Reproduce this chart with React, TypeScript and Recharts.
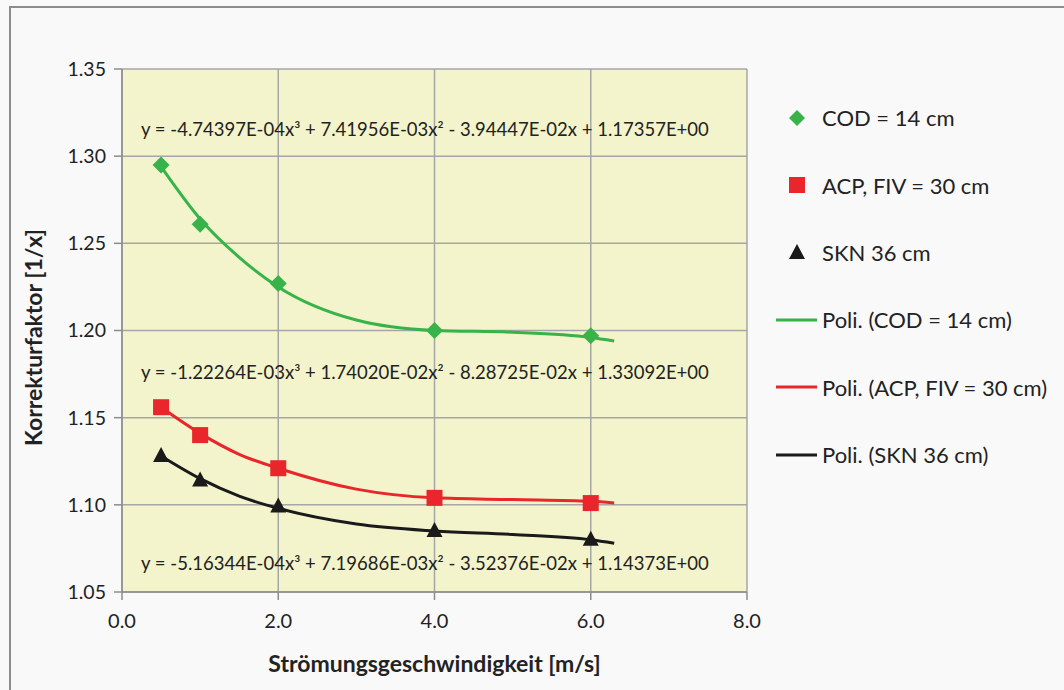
import {
  ComposedChart,
  Line,
  Scatter,
  XAxis,
  YAxis,
  CartesianGrid,
} from 'recharts';

// measured points
const speeds = [0.5, 1, 2, 4, 6];
const codValues = [1.295, 1.261, 1.227, 1.2, 1.197];
const acpValues = [1.156, 1.14, 1.121, 1.104, 1.101];
const sknValues = [1.128, 1.114, 1.099, 1.085, 1.08];

// trend curves
const trendX = [0.5, 1, 1.5, 2, 3, 4, 5, 6, 6.3];
const codTrend = [1.294, 1.264, 1.242, 1.225, 1.206, 1.2, 1.199, 1.196, 1.194];
const acpTrend = [1.156, 1.141, 1.129, 1.121, 1.109, 1.104, 1.103, 1.102, 1.101];
const sknTrend = [1.128, 1.115, 1.105, 1.098, 1.089, 1.085, 1.083, 1.08, 1.078];

const xTicks = [0, 2, 4, 6, 8];
const yTicks = [1.05, 1.1, 1.15, 1.2, 1.25, 1.3, 1.35];

const equations = [
  'y = -4.74397E-04x³ + 7.41956E-03x² - 3.94447E-02x + 1.17357E+00',
  'y = -1.22264E-03x³ + 1.74020E-02x² - 8.28725E-02x + 1.33092E+00',
  'y = -5.16344E-04x³ + 7.19686E-03x² - 3.52376E-02x + 1.14373E+00',
];

const GREEN = '#37b34a';
const RED = '#e8262b';
const BLACK = '#1a1a1a';
const FONT = 'Lato, "Open Sans", sans-serif';

const toPoints = (xs: number[], ys: number[]) => xs.map((x, i) => ({ x, y: ys[i] }));

function Diamond(props: any) {
  const { cx, cy } = props;
  const r = 8.5;
  return <polygon points={`${cx},${cy - r} ${cx + r},${cy} ${cx},${cy + r} ${cx - r},${cy}`} fill={GREEN} />;
}

function Square(props: any) {
  const { cx, cy } = props;
  return <rect x={cx - 8} y={cy - 8} width={16} height={16} fill={RED} />;
}

function Triangle(props: any) {
  const { cx, cy } = props;
  return <polygon points={`${cx},${cy - 9} ${cx + 8},${cy + 6} ${cx - 8},${cy + 6}`} fill={BLACK} />;
}

const legendItems = [
  { label: 'COD = 14 cm', kind: 'diamond', color: GREEN },
  { label: 'ACP, FIV = 30 cm', kind: 'square', color: RED },
  { label: 'SKN 36 cm', kind: 'triangle', color: BLACK },
  { label: 'Poli. (COD = 14 cm)', kind: 'line', color: GREEN },
  { label: 'Poli. (ACP, FIV = 30 cm)', kind: 'line', color: RED },
  { label: 'Poli. (SKN 36 cm)', kind: 'line', color: BLACK },
];

function LegendBox() {
  return (
    <div style={{ position: 'absolute', left: 775, top: 84, fontFamily: FONT, fontSize: 22, color: '#222' }}>
      {legendItems.map((it) => (
        <div key={it.label} style={{ display: 'flex', alignItems: 'center', height: 67.4 }}>
          <svg width={46} height={20} style={{ marginRight: 1, flexShrink: 0 }}>
            {it.kind === 'diamond' && <polygon points="22,2 30,10 22,18 14,10" fill={it.color} />}
            {it.kind === 'square' && <rect x={14} y={2} width={16} height={16} fill={it.color} />}
            {it.kind === 'triangle' && <polygon points="22,2 30,17 14,17" fill={it.color} />}
            {it.kind === 'line' && <line x1={1} y1={10} x2={42} y2={10} stroke={it.color} strokeWidth={3} />}
          </svg>
          <span style={{ whiteSpace: 'nowrap' }}>{it.label}</span>
        </div>
      ))}
    </div>
  );
}

export default function App() {
  return (
    <div style={{ position: 'absolute', left: 0, top: 0, width: 1064, height: 690, background: '#f9f9f9', overflow: 'hidden' }}>
      <div style={{ position: 'absolute', left: 9, top: 6, width: 1070, height: 700, border: '2px solid #8c8c8c' }} />
      <div style={{ position: 'absolute', left: 0, top: 0 }}>
        <ComposedChart width={1064} height={690} margin={{ top: 69, right: 317, bottom: 0, left: 10 }}>
          <CartesianGrid stroke="#a6a6a6" strokeWidth={1.5} fill="#f3f4cc" />
          <XAxis
            type="number"
            dataKey="x"
            domain={[0, 8]}
            ticks={xTicks}
            height={98}
            tickFormatter={(v: number) => v.toFixed(1)}
            stroke="#8c8c8c"
            strokeWidth={1.5}
            tickSize={8}
            tick={{ fill: '#222', fontSize: 20, fontFamily: FONT, dy: 12 }}
            label={{ value: 'Strömungsgeschwindigkeit [m/s]', position: 'insideBottom', offset: 18, fill: '#222', fontSize: 23, fontWeight: 700, fontFamily: FONT }}
            allowDuplicatedCategory={false}
          />
          <YAxis
            type="number"
            dataKey="y"
            domain={[1.05, 1.35]}
            ticks={yTicks}
            width={112}
            tickFormatter={(v: number) => v.toFixed(2)}
            stroke="#8c8c8c"
            strokeWidth={1.5}
            tickSize={8}
            tick={{ fill: '#222', fontSize: 19.5, fontFamily: FONT, dx: -6 }}
            label={{ value: 'Korrekturfaktor [1/x]', angle: -90, position: 'insideLeft', offset: 24, dy: 7, textAnchor: 'middle', fill: '#222', fontSize: 23, fontWeight: 700, fontFamily: FONT }}
          />
          <Line data={toPoints(trendX, codTrend)} dataKey="y" type="monotone" stroke={GREEN} strokeWidth={3} dot={false} isAnimationActive={false} legendType="none" />
          <Line data={toPoints(trendX, acpTrend)} dataKey="y" type="monotone" stroke={RED} strokeWidth={3} dot={false} isAnimationActive={false} legendType="none" />
          <Line data={toPoints(trendX, sknTrend)} dataKey="y" type="monotone" stroke={BLACK} strokeWidth={3} dot={false} isAnimationActive={false} legendType="none" />
          <Scatter data={toPoints(speeds, codValues)} dataKey="y" shape={Diamond} isAnimationActive={false} />
          <Scatter data={toPoints(speeds, acpValues)} dataKey="y" shape={Square} isAnimationActive={false} />
          <Scatter data={toPoints(speeds, sknValues)} dataKey="y" shape={Triangle} isAnimationActive={false} />
        </ComposedChart>
      </div>
      <LegendBox />
      {equations.map((eq, i) => (
        <div
          key={eq}
          style={{
            position: 'absolute',
            left: 141,
            top: [118, 361, 552][i],
            fontFamily: FONT,
            fontSize: 18.5,
            color: '#222',
            whiteSpace: 'nowrap',
          }}
        >
          {eq}
        </div>
      ))}
    </div>
  );
}
